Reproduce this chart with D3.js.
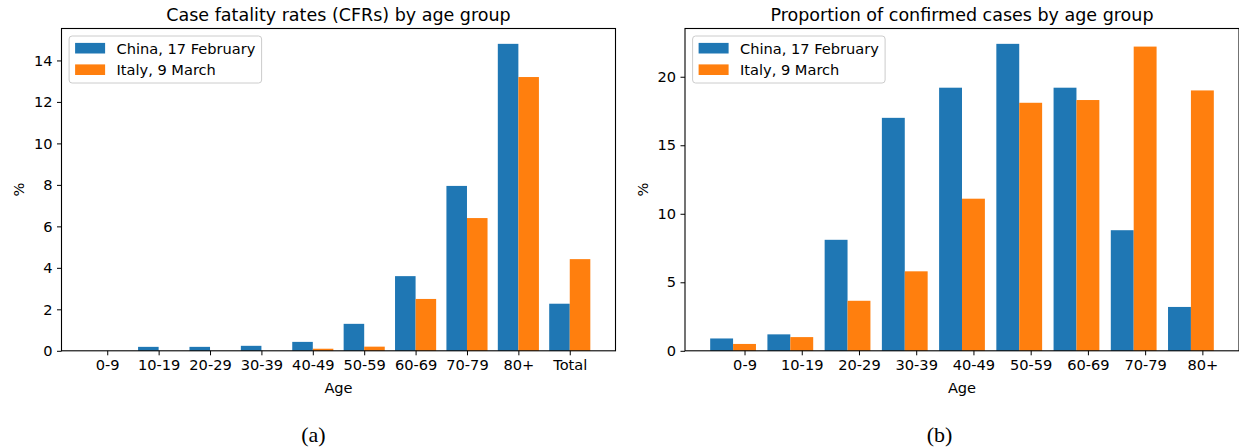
<!DOCTYPE html>
<html>
<head>
<meta charset="utf-8">
<script src="https://cdn.jsdelivr.net/npm/d3@7"></script>
<style>
  html, body { margin: 0; padding: 0; background: #fff; }
  svg { display: block; }
  text { font-family: "DejaVu Sans", sans-serif; fill: #000; }
  text.panel { font-family: "Liberation Serif", "Times New Roman", serif; }
</style>
</head>
<body>
<svg id="chart" width="1239" height="448"></svg>
<script>
// ---------- data ----------
const cfrCategories = ["0-9", "10-19", "20-29", "30-39", "40-49", "50-59", "60-69", "70-79", "80+", "Total"];
const cfrChina = [0, 0.19, 0.19, 0.24, 0.43, 1.3, 3.6, 7.95, 14.8, 2.27];
const cfrItaly = [0, 0, 0, 0, 0.1, 0.2, 2.5, 6.4, 13.2, 4.42];
const cfrTicks = [0, 2, 4, 6, 8, 10, 12, 14];

const propCategories = ["0-9", "10-19", "20-29", "30-39", "40-49", "50-59", "60-69", "70-79", "80+"];
const propChina = [0.9, 1.2, 8.1, 17.0, 19.2, 22.4, 19.2, 8.8, 3.2];
const propItaly = [0.5, 1.0, 3.65, 5.8, 11.1, 18.1, 18.3, 22.2, 19.0];
const propTicks = [0, 5, 10, 15, 20];

const seriesNames = ["China, 17 February", "Italy, 9 March"];
const colors = ["#1f77b4", "#ff7f0e"];
const titles = ["Case fatality rates (CFRs) by age group", "Proportion of confirmed cases by age group"];
const panelLabels = ["(a)", "(b)"];

// ---------- drawing ----------
const svg = d3.select("#chart");
const plotTop = 28.5, plotBottom = 350.8;

function drawPanel(o) {
  const n = o.cats.length;
  const pad = 0.05 * (n - 1 + 0.8);
  const x = d3.scaleLinear().domain([-0.4 - pad, n - 1 + 0.4 + pad]).range([o.left, o.right]);
  const ymax = d3.max(o.china.concat(o.italy)) * 1.05;
  const y = d3.scaleLinear().domain([0, ymax]).range([plotBottom, plotTop]);
  const g = svg.append("g");

  // bars
  const idx = d3.range(n);
  g.selectAll(null).data(idx).join("rect")
    .attr("x", i => x(i - 0.4)).attr("width", i => x(i) - x(i - 0.4))
    .attr("y", i => y(o.china[i])).attr("height", i => y(0) - y(o.china[i]))
    .attr("fill", colors[0]);
  g.selectAll(null).data(idx).join("rect")
    .attr("x", i => x(i)).attr("width", i => x(i + 0.4) - x(i))
    .attr("y", i => y(o.italy[i])).attr("height", i => y(0) - y(o.italy[i]))
    .attr("fill", colors[1]);

  // frame
  g.append("rect").attr("x", o.left).attr("y", plotTop)
    .attr("width", o.right - o.left).attr("height", plotBottom - plotTop)
    .attr("fill", "none").attr("stroke", "#000").attr("stroke-width", 1.1);

  // axes
  const xAxis = d3.axisBottom(x).tickValues(idx.map(i => i + o.tickShift))
    .tickFormat((d, i) => o.cats[i]).tickSize(4.5).tickPadding(4);
  const xg = g.append("g").attr("transform", `translate(0,${plotBottom})`).call(xAxis);
  xg.select(".domain").remove();
  xg.selectAll("text").attr("font-size", "14.6px");

  const yAxis = d3.axisLeft(y).tickValues(o.ticks).tickSize(4.5).tickPadding(4.5);
  const yg = g.append("g").attr("transform", `translate(${o.left},0)`).call(yAxis);
  yg.select(".domain").remove();
  yg.selectAll("text").attr("font-size", "14.6px");
  g.selectAll(".tick line").attr("stroke", "#000").attr("stroke-width", 1);

  // labels
  const cx = (o.left + o.right) / 2;
  g.append("text").attr("x", cx).attr("y", 20.5).attr("text-anchor", "middle")
    .attr("font-size", "17.5px").text(o.title);
  g.append("text").attr("x", cx).attr("y", 392.5).attr("text-anchor", "middle")
    .attr("font-size", "14.6px").text("Age");
  g.append("text").attr("transform", `translate(${o.ylabX},${(plotTop + plotBottom) / 2}) rotate(-90)`)
    .attr("text-anchor", "middle").attr("dominant-baseline", "central")
    .attr("font-size", "14.6px").text("%");
  g.append("text").attr("class", "panel").attr("x", o.panelX).attr("y", 442).attr("text-anchor", "middle")
    .attr("font-size", "22px").text(o.panel);

  // legend
  const lx = o.left + 7.6, ly = 36;
  const lg = g.append("g");
  lg.append("rect").attr("x", lx).attr("y", ly).attr("width", 192.5).attr("height", 47)
    .attr("rx", 3).attr("fill", "#fff").attr("fill-opacity", 0.8)
    .attr("stroke", "#cccccc").attr("stroke-width", 1);
  seriesNames.forEach((name, k) => {
    const cy = 48.2 + k * 21.5;
    lg.append("rect").attr("x", lx + 6).attr("y", cy - 5.3).attr("width", 30).attr("height", 10.6)
      .attr("fill", colors[k]);
    lg.append("text").attr("x", lx + 47.4).attr("y", cy + 5.3)
      .attr("font-size", "14.6px").text(name);
  });
}

drawPanel({ cats: cfrCategories, china: cfrChina, italy: cfrItaly, ticks: cfrTicks,
  left: 61.5, right: 615.5, tickShift: 0, title: titles[0], panel: panelLabels[0],
  ylabX: 18.5, panelX: 313.5 });
drawPanel({ cats: propCategories, china: propChina, italy: propItaly, ticks: propTicks,
  left: 685, right: 1239, tickShift: 0.2, title: titles[1], panel: panelLabels[1],
  ylabX: 642.5, panelX: 939.5 });
</script>
</body>
</html>
